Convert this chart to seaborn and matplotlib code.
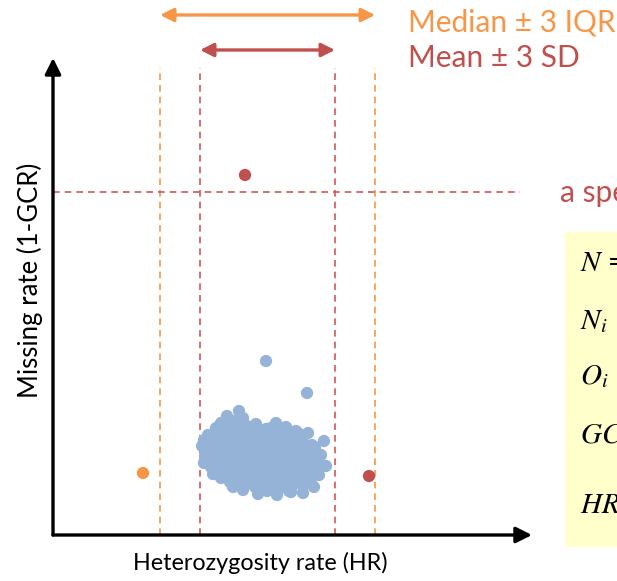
import matplotlib
matplotlib.use("Agg")
import matplotlib.pyplot as plt
import seaborn as sns
import pandas as pd
from matplotlib.patches import Rectangle

# ---------------- data (arbitrary units) ----------------
cluster_hr = [186, 174, 168, 180, 190,
              163, 173, 183, 194, 203, 213, 223, 233, 243,
              155, 164, 173, 182, 191, 200, 209, 218, 227, 236, 245, 255,
              151, 160, 169, 178, 187, 196, 205, 214, 223, 232, 241, 250, 259, 271,
              149, 157, 166, 175, 184, 193, 202, 211, 220, 229, 238, 247, 256, 262,
              152, 161, 170, 179, 188, 197, 206, 215, 224, 233, 242, 251, 260, 268,
              151, 158, 167, 176, 185, 194, 203, 212, 221, 230, 239, 248, 257, 266, 273,
              160, 169, 178, 187, 196, 205, 214, 223, 232, 241, 250, 259, 266,
              168, 177, 186, 195, 204, 213, 222, 231, 240, 249, 258,
              180, 190, 202, 214, 226, 236, 250, 261,
              205, 224, 238,
              168, 178, 188, 198, 208, 218, 228, 238,
              158, 168, 178, 188, 198, 208, 218, 228, 238, 248,
              156, 165, 174, 183, 192, 201, 210, 219, 228, 237, 246, 255,
              155, 164, 173, 182, 191, 200, 209, 218, 227, 236, 245, 254, 263,
              157, 166, 175, 184, 193, 202, 211, 220, 229, 238, 247, 256, 265,
              163, 172, 181, 190, 199, 208, 217, 226, 235, 244, 253, 262,
              172, 182, 192, 202, 212, 222, 232, 242, 252,
              190, 200, 210, 220, 230, 240, 250]
cluster_miss = [124, 119, 112, 114, 117,
                107, 110, 108, 109, 111, 106, 112, 108, 104,
                100, 103, 99, 104, 101, 98, 103, 100, 104, 99, 102, 102,
                95, 98, 92, 96, 93, 97, 91, 94, 96, 92, 95, 93, 90, 94,
                89, 84, 87, 85, 88, 83, 86, 88, 84, 87, 85, 82, 86, 88,
                79, 76, 80, 77, 75, 79, 77, 80, 76, 78, 75, 79, 77, 80,
                72, 68, 71, 69, 72, 67, 70, 72, 68, 71, 69, 66, 70, 68, 69,
                61, 64, 60, 63, 59, 62, 64, 60, 63, 61, 58, 62, 60,
                57, 53, 55, 52, 56, 53, 55, 51, 54, 52, 56,
                48, 45, 48, 44, 47, 44, 42, 48,
                41, 40, 43,
                105, 107, 104, 106, 103, 107, 105, 103,
                97, 99, 96, 100, 98, 96, 99, 97, 100, 96,
                90, 91, 88, 92, 89, 91, 90, 88, 92, 89, 91, 89,
                82, 81, 83, 80, 82, 84, 81, 83, 80, 82, 84, 81, 83,
                74, 75, 73, 74, 76, 73, 75, 74, 73, 75, 74, 76, 73,
                66, 65, 67, 66, 65, 67, 66, 65, 67, 66, 64, 66,
                58, 59, 57, 59, 58, 57, 59, 58, 57,
                50, 51, 49, 51, 50, 50, 49]

outlier_hr = [213, 254, 192, 90, 316]
outlier_miss = [174, 142, 360, 62, 59]
outlier_group = ["normal", "normal", "sd", "iqr", "sd"]

iqr_bounds = [107, 322]       # median +/- 3 IQR
sd_bounds = [147, 282]        # mean +/- 3 SD
miss_threshold = 343          # a specific threshold

box_lines = [r"$N$ = total number of SNPs",
             r"$N_i$ = number of called genotypes",
             r"$O_i$ = number of homozygous genotypes",
             r"$GCR = N_i / N$",
             r"$HR = (N_i - O_i) / N_i$"]

# ---------------- style ----------------
BLUE = "#95B3D7"
ORANGE = "#F79646"
RED = "#C0504D"

sns.set_theme(style="white")
plt.rcParams["font.family"] = ["Lato", "DejaVu Sans"]
plt.rcParams["mathtext.fontset"] = "stix"

W, H = 617, 581
fig = plt.figure(figsize=(W / 100, H / 100), dpi=100)
ax = fig.add_axes([53 / W, 46 / H, 479 / W, 477 / H])
ax.set_xlim(0, 479)
ax.set_ylim(0, 477)
ax.axis("off")

df = pd.DataFrame({
    "hr": cluster_hr + outlier_hr,
    "miss": cluster_miss + outlier_miss,
    "group": ["normal"] * len(cluster_hr) + outlier_group,
})
sns.scatterplot(data=df, x="hr", y="miss", hue="group",
                palette={"normal": BLUE, "sd": RED, "iqr": ORANGE},
                s=78, linewidth=0, legend=False, ax=ax, zorder=3, clip_on=False)

# threshold lines
ax.vlines(iqr_bounds, 0, 467, colors=ORANGE, linestyles=(0, (4, 3)), lw=1.2, zorder=1)
ax.vlines(sd_bounds, 0, 467, colors="#D05858", linestyles=(0, (4, 3)), lw=1.2, zorder=1)
ax.hlines(miss_threshold, 0, 467, colors="#D05858", linestyles=(0, (4, 3)), lw=1.2, zorder=1)

# axes with arrows
ax.annotate("", xy=(0, 1), xytext=(0, 0), xycoords="axes fraction",
            arrowprops=dict(arrowstyle="-|>", color="black", lw=2.4,
                            mutation_scale=24, shrinkA=0, shrinkB=0))
ax.annotate("", xy=(1, 0), xytext=(0, 0), xycoords="axes fraction",
            arrowprops=dict(arrowstyle="-|>", color="black", lw=2.4,
                            mutation_scale=24, shrinkA=0, shrinkB=0))

# range arrows on top
ax.annotate("", xy=(iqr_bounds[1], 520), xytext=(iqr_bounds[0], 520),
            arrowprops=dict(arrowstyle="<|-|>", color=ORANGE, lw=2.4,
                            mutation_scale=20, shrinkA=0, shrinkB=0),
            annotation_clip=False)
ax.annotate("", xy=(sd_bounds[1], 485), xytext=(sd_bounds[0], 485),
            arrowprops=dict(arrowstyle="<|-|>", color=RED, lw=2.4,
                            mutation_scale=20, shrinkA=0, shrinkB=0),
            annotation_clip=False)

fig.text(408 / W, 1 - 22 / H, "Median ± 3 IQR", color=ORANGE, fontsize=21.5,
         va="center", ha="left")
fig.text(408 / W, 1 - 58 / H, "Mean ± 3 SD", color=RED, fontsize=21.5,
         va="center", ha="left")
fig.text(560 / W, 1 - 193 / H, "a specific threshold", color=RED, fontsize=21.5,
         va="center", ha="left")

# axis labels
fig.text(30 / W, 1 - 280 / H, "Missing rate (1-GCR)", rotation=90, fontsize=18.5,
         va="center", ha="center", color="black")
fig.text(260 / W, 1 - 563 / H, "Heterozygosity rate (HR)", fontsize=16.8,
         va="center", ha="center", color="black")

# yellow definitions box
fig.patches.append(Rectangle((565 / W, 1 - 547 / H), 300 / W, (547 - 232) / H,
                             transform=fig.transFigure, facecolor="#FFFFCC",
                             edgecolor="none", zorder=0))
for txt, yp in zip(box_lines, [263, 321, 376, 436, 505]):
    fig.text(580 / W, 1 - yp / H, txt, fontsize=21, va="center", ha="left",
             color="black")

fig.savefig("out.png", dpi=100)
